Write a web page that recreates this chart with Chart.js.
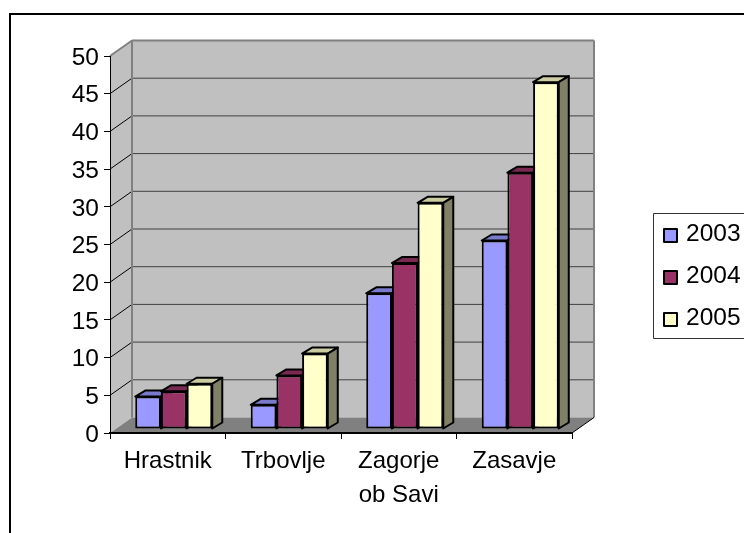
<!DOCTYPE html>
<html>
<head>
<meta charset="utf-8">
<style>
  body { margin: 0; background: #fff; }
  #wrap { width: 744px; height: 533px; overflow: hidden; }
</style>
<script src="https://cdn.jsdelivr.net/npm/chart.js@4"></script>
</head>
<body>
<div id="wrap"><canvas id="myChart" width="744" height="533"></canvas></div>
<script>
const categories = ["Hrastnik", "Trbovlje", ["Zagorje", "ob Savi"], "Zasavje"];
const values2003 = [4.3, 3.2, 18, 25];
const values2004 = [5, 7.1, 22, 34];
const values2005 = [6, 10, 30, 46];
const yTicks = [0, 5, 10, 15, 20, 25, 30, 35, 40, 45, 50];

const FAMILY = "'Liberation Sans', Arial, sans-serif";

// how far the back wall and the bars sit behind the axes
const wallDepth = { x: 22, y: -15.5 };
const barShift = { x: 6, y: -4 };
const barDepth = { x: 10, y: -6 };

function shade(hex, f) {
  const n = parseInt(hex.slice(1), 16);
  const r = Math.round(((n >> 16) & 255) * f);
  const g = Math.round(((n >> 8) & 255) * f);
  const b = Math.round((n & 255) * f);
  return "rgb(" + r + "," + g + "," + b + ")";
}

function poly(ctx, pts, fill, stroke, width) {
  ctx.beginPath();
  pts.forEach((p, i) => (i ? ctx.lineTo(p[0], p[1]) : ctx.moveTo(p[0], p[1])));
  ctx.closePath();
  if (fill) {
    ctx.fillStyle = fill;
    ctx.fill();
  }
  if (stroke) {
    ctx.strokeStyle = stroke;
    ctx.lineWidth = width;
    ctx.lineJoin = "round";
    ctx.stroke();
  }
}

function line(ctx, x1, y1, x2, y2, color, width) {
  ctx.beginPath();
  ctx.moveTo(x1, y1);
  ctx.lineTo(x2, y2);
  ctx.strokeStyle = color;
  ctx.lineWidth = width;
  ctx.stroke();
}

// outer frame, walls, floor and gridlines
const wallsPlugin = {
  id: "walls",
  beforeDraw(chart) {
    const ctx = chart.ctx;
    const { left, right, top, bottom } = chart.chartArea;
    const yScale = chart.scales.y;
    const dx = wallDepth.x;
    const dy = wallDepth.y;
    ctx.save();
    line(ctx, 10, 13, 10, 533, "#000", 2);
    line(ctx, 9, 14, 744, 14, "#000", 2);

    poly(ctx, [[left, top], [left + dx, top + dy], [left + dx, bottom + dy], [left, bottom]], "#c0c0c0");
    poly(ctx, [[left + dx, top + dy], [right + dx, top + dy], [right + dx, bottom + dy], [left + dx, bottom + dy]], "#c0c0c0");
    poly(ctx, [[left, bottom], [left + dx, bottom + dy], [right + dx, bottom + dy], [right, bottom]], "#808080");

    yTicks.forEach((v) => {
      if (v === 0 || v === 50) return;
      const y = yScale.getPixelForValue(v);
      line(ctx, left, y, left + dx, y + dy, "#000", 1);
      line(ctx, left + dx, y + dy, right + dx, y + dy, "#404040", 1);
    });
    line(ctx, left, top, left + dx, top + dy, "#808080", 2);
    line(ctx, left + dx, top + dy, right + dx, top + dy, "#808080", 2);
    line(ctx, left + dx, top + dy, left + dx, bottom + dy, "#808080", 2);
    line(ctx, right + dx, top + dy, right + dx, bottom + dy, "#808080", 2);
    line(ctx, right, bottom, right + dx, bottom + dy, "#000", 1);
    ctx.restore();
  },
  // top and side faces go in first, the library's bars then cover them
  beforeDatasetsDraw(chart) {
    const ctx = chart.ctx;
    ctx.save();
    ctx.translate(barShift.x, barShift.y);
    const dx = barDepth.x;
    const dy = barDepth.y;
    chart.data.datasets.forEach((ds, i) => {
      chart.getDatasetMeta(i).data.forEach((bar) => {
        const l = bar.x - bar.width / 2;
        const r = bar.x + bar.width / 2;
        const t = bar.y;
        const b = bar.base;
        poly(ctx, [[l, t], [l + dx, t + dy], [r + dx, t + dy], [r, t]], shade(ds.backgroundColor, 0.8), "#000", 2);
        poly(ctx, [[r, t], [r + dx, t + dy], [r + dx, b + dy], [r, b]], shade(ds.backgroundColor, 0.5), "#000", 2);
      });
    });
  },
  afterDatasetsDraw(chart) {
    chart.ctx.restore();
  },
  // legend box runs off the right side of the picture
  afterDraw(chart) {
    const ctx = chart.ctx;
    ctx.save();
    poly(ctx, [[653.5, 213.5], [760, 213.5], [760, 338.5], [653.5, 338.5]], "#fff", "#333", 1);
    ctx.font = "24.5px " + FAMILY;
    ctx.textBaseline = "middle";
    chart.data.datasets.forEach((ds, i) => {
      const y = 235.5 + i * 42;
      ctx.fillStyle = ds.backgroundColor;
      ctx.fillRect(664, y - 6.5, 13, 13);
      ctx.strokeStyle = "#000";
      ctx.lineWidth = 2;
      ctx.strokeRect(664, y - 6.5, 13, 13);
      ctx.fillStyle = "#000";
      ctx.fillText(ds.label, 686, y - 1.5);
    });
    ctx.restore();
  },
};

new Chart(document.getElementById("myChart"), {
  type: "bar",
  data: {
    labels: categories,
    datasets: [
      { label: "2003", data: values2003, backgroundColor: "#9999ff" },
      { label: "2004", data: values2004, backgroundColor: "#993366" },
      { label: "2005", data: values2005, backgroundColor: "#ffffcc" },
    ],
  },
  options: {
    responsive: false,
    animation: false,
    layout: { padding: { left: 60, top: 56, right: 172, bottom: 0 } },
    datasets: {
      bar: {
        categoryPercentage: 0.667,
        barPercentage: 1,
        borderColor: "#000",
        borderWidth: 2,
        borderSkipped: false,
        clip: false,
      },
    },
    plugins: {
      legend: { display: false },
      tooltip: { enabled: false },
    },
    scales: {
      x: {
        grid: { drawOnChartArea: false, color: "#000", tickLength: 6, tickWidth: 1 },
        border: { color: "#000", width: 2 },
        ticks: {
          color: "#000",
          font: { family: FAMILY, size: 24, lineHeight: 1.42 },
          padding: 5,
          maxRotation: 0,
          autoSkip: false,
        },
        afterFit(scale) {
          scale.height = 100;
        },
      },
      y: {
        min: 0,
        max: 50,
        afterBuildTicks(scale) {
          scale.ticks = yTicks.map((v) => ({ value: v }));
        },
        grid: { drawOnChartArea: false, color: "#000", tickLength: 6, tickWidth: 1 },
        border: { color: "#000", width: 1 },
        ticks: {
          color: "#000",
          font: { family: FAMILY, size: 24.5 },
          padding: 5,
          labelOffset: 2,
        },
        afterFit(scale) {
          scale.width = 50;
        },
      },
    },
  },
  plugins: [wallsPlugin],
});
</script>
</body>
</html>
